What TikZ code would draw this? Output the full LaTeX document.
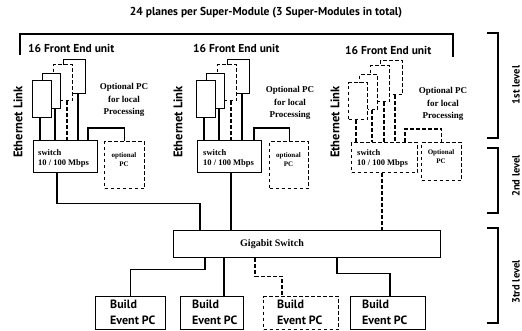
\documentclass[tikz,border=0pt]{standalone}
\usepackage{fontspec}
\setmainfont{Liberation Serif}
\newfontfamily\gsans{PT Sans}
\newcommand\FS[2]{\fontsize{#1}{#2}\selectfont}
\begin{document}
\begin{tikzpicture}[x=1pt,y=-1pt,
  ln/.style={line width=1.2pt},
  dsh/.style={dash pattern=on 3.5pt off 2.5pt},
  bx/.style={draw,line width=1.2pt,fill=white,inner sep=0pt,anchor=north west},
  dbox/.style={bx,minimum width=22pt,minimum height=34pt},
  cbox/.style={bx,minimum width=19pt,minimum height=36pt},
  bbox/.style={bx,minimum width=18pt,minimum height=35pt},
  abox/.style={bx,minimum width=19pt,minimum height=37pt},
  fetxt/.style={inner sep=0pt,anchor=west,font=\gsans\bfseries\FS{11.5}{13}},
  ethtxt/.style={inner sep=0pt,rotate=90,font=\gsans\bfseries\FS{12.5}{14}},
  optxt/.style={inner sep=0pt,align=center,font=\bfseries\FS{9}{12.5}},
  swtxt/.style={inner sep=0pt,anchor=base west,font=\bfseries\FS{8.5}{10}},
  pctxt/.style={inner sep=0pt,align=center,font=\bfseries\FS{7}{9}},
  bptxt/.style={inner sep=0pt,anchor=west,align=left,font=\gsans\bfseries\FS{12}{16}},
  lvtxt/.style={inner sep=0pt,rotate=90,font=\gsans\bfseries\FS{10.5}{12}}
]
\fill[white] (0,0) rectangle (522,331);
\useasboundingbox (0,0) rectangle (522,331);

% title and top bracket
\node[inner sep=0pt,font=\gsans\bfseries\FS{11.5}{13}] (title) at (266,13) {24 planes per Super-Module (3 Super-Modules in total)};
\draw[ln] (20,55) -- (20,34) -- (453,34) -- (453,57);

% gigabit switch
\node[bx,minimum width=267pt,minimum height=27pt] (G) at (173,230) {};
\node[inner sep=0pt,font=\bfseries\FS{10}{12}] (Gt) at (272,244) {Gigabit Switch};

% ---------- stack 1 ----------
\node[dbox] (D1) at (63,59) {};
\node[cbox,dsh] (C1) at (53,64) {};
\node[bbox] (B1) at (42,73) {};
\node[abox] (A1) at (32,80) {};
\node[bx,minimum width=64pt,minimum height=32pt] (S1) at (33,140) {};
\node[bx,dsh,minimum width=40pt,minimum height=47pt] (P1) at (104,141) {};
\coordinate (a1) at ([xshift=8pt]A1.south west);
\coordinate (b1) at ([xshift=13pt]B1.south west);
\coordinate (c1) at ([xshift=14pt]C1.south west);
\coordinate (d1) at ([xshift=15pt]D1.south west);
\draw[ln] (a1) -- (a1 |- S1.north);
\draw[ln] (b1) -- (b1 |- S1.north);
\draw[ln,dsh] (c1) -- (c1 |- S1.north);
\draw[ln] (d1) -- (d1 |- S1.north);
\coordinate (s1u) at ([xshift=55pt]S1.north west);
\draw[ln] (s1u) -- ++(0,-12) -| (P1.north);
\coordinate (s1d) at ([xshift=24pt]S1.south west);
\coordinate (g1) at ([xshift=27pt]G.north west);
\draw[ln] (s1d) -- ++(0,30) -| (g1);
\node[fetxt] (fe1) at (28,48) {16 Front End unit};
\node[ethtxt] (eth1) at (18,122) {Ethernet Link};
\node[optxt] (op1) at (124,100) {Optional PC\\for local\\Processing};
\node[swtxt] (sw1a) at (38,156) {switch};
\node[swtxt] (sw1b) at (38,166) {10 / 100 Mbps};
\node[pctxt] (pc1) at (124,160) {optional\\PC};

% ---------- stack 2 ----------
\node[dbox] (D2) at (227,59) {};
\node[cbox,dsh] (C2) at (217,64) {};
\node[bbox] (B2) at (206,73) {};
\node[abox] (A2) at (196,80) {};
\node[bx,minimum width=64pt,minimum height=32pt] (S2) at (197,140) {};
\node[bx,dsh,minimum width=39pt,minimum height=47pt] (P2) at (269,141) {};
\coordinate (a2) at ([xshift=8pt]A2.south west);
\coordinate (b2) at ([xshift=13pt]B2.south west);
\coordinate (c2) at ([xshift=14pt]C2.south west);
\coordinate (d2) at ([xshift=15pt]D2.south west);
\draw[ln] (a2) -- (a2 |- S2.north);
\draw[ln] (b2) -- (b2 |- S2.north);
\draw[ln,dsh] (c2) -- (c2 |- S2.north);
\draw[ln] (d2) -- (d2 |- S2.north);
\coordinate (s2u) at ([xshift=57pt]S2.north west);
\draw[ln] (s2u) -- ++(0,-12) -| (P2.north);
\coordinate (s2d) at ([xshift=34pt]S2.south west);
\draw[ln] (s2d) -- (s2d |- G.north);
\node[fetxt] (fe2) at (193,48) {16 Front End unit};
\node[ethtxt] (eth2) at (178,122) {Ethernet Link};
\node[optxt] (op2) at (290,103) {Optional PC\\for local\\Processing};
\node[swtxt] (sw2a) at (203,156) {switch};
\node[swtxt] (sw2b) at (203,166) {10 / 100 Mbps};
\node[pctxt] (pc2) at (288.5,160) {optional\\PC};

% ---------- stack 3 (all optional) ----------
\node[dbox,dsh] (D3) at (380,60) {};
\node[cbox,dsh] (C3) at (370,65) {};
\node[bbox,dsh] (B3) at (359,74) {};
\node[abox,dsh] (A3) at (348,82) {};
\node[bx,dsh,minimum width=66pt,minimum height=30pt] (S3) at (351,142) {};
\node[bx,dsh,minimum width=40pt,minimum height=38pt] (P3) at (421,142) {};
\coordinate (a3) at ([xshift=8pt]A3.south west);
\coordinate (b3) at ([xshift=13pt]B3.south west);
\coordinate (c3) at ([xshift=14pt]C3.south west);
\coordinate (d3) at ([xshift=15pt]D3.south west);
\draw[ln,dsh] (a3) -- (a3 |- S3.north);
\draw[ln,dsh] (b3) -- (b3 |- S3.north);
\draw[ln,dsh] (c3) -- (c3 |- S3.north);
\draw[ln,dsh] (d3) -- (d3 |- S3.north);
\coordinate (s3u) at ([xshift=54pt]S3.north west);
\draw[ln,dsh] (s3u) -- ++(0,-13) -| (P3.north);
\coordinate (s3d) at ([xshift=31pt]S3.south west);
\draw[ln,dsh] (s3d) -- (s3d |- G.north);
\node[fetxt] (fe3) at (345,50) {16 Front End unit};
\node[ethtxt] (eth3) at (335,122) {Ethernet Link};
\node[optxt] (op3) at (443,104) {Optional PC\\for local\\Processing};
\node[swtxt] (sw3a) at (357,156) {switch};
\node[swtxt] (sw3b) at (357,166) {10 / 100 Mbps};
\node[pctxt] (pc3) at (441,157) {Optional\\PC};

% ---------- build event PCs ----------
\node[bx,minimum width=70pt,minimum height=33pt] (E1) at (95,296) {};
\node[bx,minimum width=63pt,minimum height=33pt] (E2) at (180,296) {};
\node[bx,dsh,minimum width=75pt,minimum height=33pt] (E3) at (263,296) {};
\node[bx,minimum width=75pt,minimum height=33pt] (E4) at (350,296) {};
\node[bptxt] (e1t) at (110,312) {Build\\Event PC};
\node[bptxt] (e2t) at (192,312) {Build\\Event PC};
\node[bptxt] (e3t) at (277,312) {Build\\Event PC};
\node[bptxt] (e4t) at (362,312) {Build\\Event PC};
\coordinate (g1d) at ([xshift=32pt]G.south west);
\draw[ln] (g1d) -- ++(0,11) -| (E1.north);
\coordinate (e2u) at ([xshift=44pt]E2.north west);
\draw[ln] (e2u |- G.south) -- (e2u);
\coordinate (g3d) at ([xshift=82pt]G.south west);
\coordinate (e3u) at ([xshift=19pt]E3.north west);
\draw[ln,dsh] (g3d) -- ++(0,18) -| (e3u);
\coordinate (g4d) at ([xshift=164pt]G.south west);
\coordinate (e4u) at ([xshift=40pt]E4.north west);
\draw[ln] (g4d) -- ++(0,15) -| (e4u);

% ---------- level brackets ----------
\draw[ln] (487,33) -- (498,33) -- (498,138) -- (487,138);
\draw[ln] (487,148) -- (498,148) -- (498,213) -- (487,213);
\draw[ln] (487,228) -- (498,228) -- (498,323) -- (487,323);
\node[lvtxt] (lv1) at (516,85) {1st level};
\node[lvtxt] (lv2) at (516,176) {2nd level};
\node[lvtxt] (lv3) at (516,282) {3trd level};
\end{tikzpicture}
\end{document}
